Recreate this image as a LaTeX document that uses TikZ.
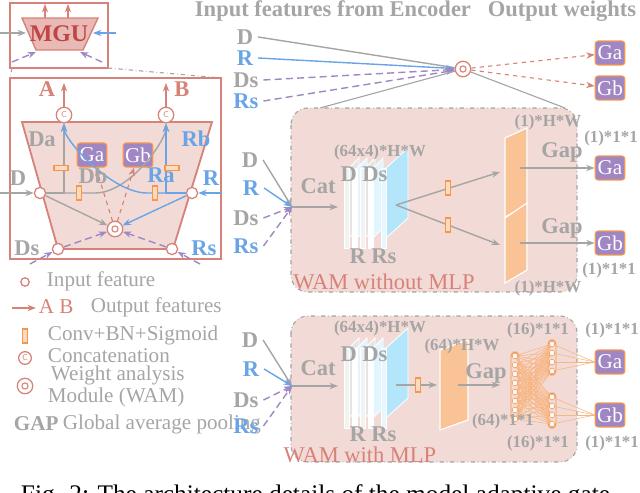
\documentclass[tikz,border=0pt]{standalone}
\usepackage{fontspec}
\setmainfont{Liberation Serif}
\usetikzlibrary{arrows.meta,calc}
\definecolor{cgray}{RGB}{165,165,165}
\definecolor{cblue}{RGB}{105,165,230}
\definecolor{cred}{RGB}{215,130,120}
\definecolor{cdred}{RGB}{190,70,70}
\definecolor{cpink}{RGB}{242,218,214}
\definecolor{cpurp}{RGB}{160,135,195}
\definecolor{corg}{RGB}{245,150,75}
\definecolor{corgf}{RGB}{250,195,150}
\tikzset{
  big/.style={font=\fontsize{16}{18}\selectfont\bfseries},
  small/.style={font=\fontsize{12}{14}\selectfont\bfseries,text=cgray},
  leg/.style={font=\fontsize{15}{17}\selectfont,text=cgray,anchor=west},
  inc/.style={circle,draw=cred,fill=white,line width=.9pt,inner sep=0pt,minimum size=8pt},
  cat/.style={circle,draw=cred,fill=white,line width=.9pt,inner sep=0pt,minimum size=11pt,
    font=\fontsize{6}{6}\selectfont\sffamily,text=cred},
  wam/.style={circle,draw=cred,fill=white,line width=.9pt,inner sep=0pt,minimum size=11pt,
    path picture={\draw[cred,line width=.8pt] (path picture bounding box.center) circle (2.2pt);}},
  gbox/.style={draw=corg,fill=cpurp,rounded corners=2pt,text=white,line width=.8pt,
    minimum width=21pt,minimum height=17pt,inner sep=0pt,font=\fontsize{15}{15}\selectfont},
  conv/.style={draw=corg,fill=corgf!60,line width=.8pt,minimum width=3pt,minimum height=10pt,inner sep=0pt},
  garr/.style={draw=cgray,line width=1pt,-{Stealth[length=6pt]}},
  barr/.style={draw=cblue,line width=1pt,-{Stealth[length=6pt]}},
  parr/.style={draw=cpurp,line width=1pt,dashed,dash pattern=on 5pt off 3pt,-{Stealth[length=6pt]}},
  rarr/.style={draw=cred,line width=.8pt,dashed,-{Stealth[length=6pt]}},
  oarr/.style={draw=cred,line width=1pt,-{Stealth[length=6pt]}},
  wambox/.style={draw=cgray,dash dot,fill=cpink,rounded corners=12pt,line width=.8pt},
  title/.style={font=\fontsize{16}{18}\selectfont,text=cred},
}
\newcommand{\fstack}[2]{% feature stack at x,y
  \foreach \k/\c/\d in {0/gray!20/gray!10,1/cyan!12/white,2/gray!20/gray!10,3/cyan!12/white}{
    \filldraw[draw=white,fill=\c,line width=.6pt] ($(#1,#2)+(\k*8,0)$) -- ++(10,-10) -- ++(0,70) -- ++(-10,10) -- cycle;
    \filldraw[draw=white,fill=\d,line width=.6pt] ($(#1,#2)+(\k*8-5,0)$) rectangle ++(5,80);}
  \filldraw[draw=white,fill=cyan!30,line width=.6pt] ($(#1,#2)+(37,0)$) -- ++(22,-20) -- ++(0,70) -- ++(-22,20) -- cycle;
  \filldraw[draw=white,fill=cyan!10,line width=.6pt] ($(#1,#2)+(32,0)$) rectangle ++(5,80);}
\begin{document}
\begin{tikzpicture}[x=0.025cm,y=-0.025cm]
\useasboundingbox (0,0) rectangle (640,493);
\begin{scope}
\clip (0,0) rectangle (640,493);
% ---- small MGU
\draw[cred,line width=1pt] (10,3) rectangle (108,68);
\filldraw[draw=cred,fill=cred!55,line width=1pt] (22,18) -- (98,18) -- (83,50) -- (36,50) -- cycle;
\node[text=cdred,font=\fontsize{17}{17}\selectfont\bfseries] (mgu) at (59,34) {MGU};
\coordinate (m1) at (45,18); \coordinate (m2) at (68,18);
\draw[oarr] (m1) -- ++(0,-14);
\draw[oarr] (m2) -- ++(0,-14);
\draw[garr] (0,33) -- (26,33);
\draw[barr] (116,33) -- (93,33);
\draw[parr] (12,62) -- (36,52);
\draw[parr] (102,62) -- (80,52);
\draw[cgray,dash dot,line width=.8pt] (12,68) -- (10,78);
\draw[cgray,dash dot,line width=.8pt] (108,68) -- (221,78);
% ---- detailed MGU
\draw[cred,line width=1pt] (10,78) rectangle (221,259);
\filldraw[draw=cred,fill=cpink,line width=1.3pt] (22,122) -- (212,122) -- (173,249) -- (58,249) -- cycle;
\node[inc] (lD) at (40,193) {};
\node[inc] (lR) at (192,193) {};
\node[inc] (lDs) at (58,249) {};
\node[inc] (lRs) at (172,249) {};
\node[cat] (cA) at (64,115) {C};
\node[cat] (cB) at (166,115) {C};
\node[wam] (w1) at (115,229) {};
\node[gbox] (ga1) at (92,155) {Ga};
\node[gbox] (gb1) at (138,155) {Gb};
\draw[garr] (lD) -| (cA);
\draw[garr] (lD) -- ++(55,0) .. controls +(35,0) and +(0,25) .. (cB);
\draw[barr] (lR) -| (cB);
\draw[barr] (lR) -- ++(-45,0) .. controls +(-35,0) and +(0,25) .. (cA);
\draw[garr] (lD) -- (w1);
\draw[barr] (lR) -- (w1);
\draw[parr] (lDs) -- (w1);
\draw[parr] (lRs) -- (w1);
\draw[rarr] (w1) -- (ga1);
\draw[rarr] (w1) -- (gb1);
\node[conv,rotate=90] at (61,168) {};
\node[conv] at (79,193) {};
\node[conv] at (155,193) {};
\node[conv,rotate=90] at (172,168) {};
\draw[oarr] (cA) -- ++(0,-32);
\draw[oarr] (cB) -- ++(0,-32);
\draw[garr] (0,193) -- (lD);
\draw[barr] (222,193) -- (lR);
\draw[parr] (30,264) -- (lDs);
\draw[parr] (200,264) -- (lRs);
\node[big,text=cred] at (47,89) {A};
\node[big,text=cred] at (182,89) {B};
\node[big,text=cgray] at (42,139) {Da};
\node[big,text=cgray] at (93,176) {Db};
\node[big,text=cblue] at (161,175) {Ra};
\node[big,text=cblue] at (196,139) {Rb};
\node[big,text=cgray] at (18,178) {D};
\node[big,text=cblue] at (211,178) {R};
\node[big,text=cgray] at (27,248) {Ds};
\node[big,text=cblue] at (204,248) {Rs};
% ---- legend
\node[inc,minimum size=6pt] (l1) at (25,282) {};
\node[leg] at (42,281) {Input feature};
\draw[oarr] (12,308) -- (36,308);
\node[leg,text=cred] at (34,307) {A B};
\node[leg] at (86,307) {Output features};
\node[conv] (l3) at (25,336) {};
\node[leg] at (43,335) {Conv+BN+Sigmoid};
\node[cat,minimum size=9pt] (l4) at (25,358) {C};
\node[leg] at (43,356) {Concatenation};
\node[wam] (l5) at (25,386) {};
\node[leg] at (46,375) {Weight analysis};
\node[leg] at (43,397) {Module (WAM)};
\node[leg,font=\fontsize{15}{17}\selectfont\bfseries] at (9,424) {GAP};
\node[leg] at (58,424) {Global average pooling};
% ---- top: encoder inputs
\node[big,text=cgray] at (333,11) {Input features from Encoder};
\node[big,text=cgray] at (562,11) {Output weights};
\node[big,text=cgray] (tD) at (245,37) {D};
\node[big,text=cblue] (tR) at (245,58) {R};
\node[big,text=cgray] (tDs) at (246,80) {Ds};
\node[big,text=cblue] (tRs) at (246,101) {Rs};
\node[wam] (w0) at (463,69) {};
\node[gbox] (ga0) at (610,53) {Ga};
\node[gbox] (gb0) at (610,88) {Gb};
\draw[garr,-] (tD.east) -- (w0);
\draw[barr] (tR.east) -- (w0);
\draw[parr] (tDs.east) -- (w0);
\draw[parr] (tRs.east) -- (w0);
\draw[rarr] (w0) -- (ga0);
\draw[rarr] (w0) -- (gb0);
\draw[cgray,line width=.8pt] (w0) -- (320,108);
\draw[cgray,line width=.8pt] (w0) -- (565,108);
% ---- WAM without MLP
\draw[wambox] (291,108) rectangle (577,292);
\node[title] at (384,282) {WAM without MLP};
\coordinate (j1) at (292,207);
\node[big,text=cgray] (aD) at (250,160) {D};
\node[big,text=cblue] (aR) at (251,188) {R};
\node[big,text=cgray] (aDs) at (246,218) {Ds};
\node[big,text=cblue] (aRs) at (246,246) {Rs};
\draw[garr] (aD.east) -- (j1);
\draw[barr] (aR.east) -- (j1);
\draw[parr] (aDs.east) -- (j1);
\draw[parr] (aRs.east) -- (j1);
\node[big,text=cgray] at (318,186) {Cat};
\coordinate (s1) at (338,207);
\draw[garr] (j1) -- (s1);
\fstack{349}{168}
\node[small] at (380,152) {(64x4)*H*W};
\node[big,text=cgray] at (364,174) {D Ds};
\node[big,text=cgray] at (373,256) {R Rs};
\coordinate (b1) at (396,205);
\filldraw[draw=white,fill=corgf,line width=.8pt] (505,138) -- (527,128) -- (527,205) -- (505,217) -- cycle;
\filldraw[draw=white,fill=corgf,line width=.8pt] (505,218) -- (527,203) -- (527,270) -- (505,283) -- cycle;
\coordinate (p1) at (500,172); \coordinate (p2) at (500,245);
\draw[garr] (b1) -- (p1);
\draw[garr] (b1) -- (p2);
\node[conv] at (448,188) {};
\node[conv] at (448,225) {};
\node[small] at (548,122) {(1)*H*W};
\node[small] at (548,288) {(1)*H*W};
\node[gbox] (ga2) at (610,168) {Ga};
\node[gbox] (gb2) at (610,243) {Gb};
\draw[garr] (520,168) -- (ga2);
\draw[garr] (520,243) -- (gb2);
\node[big,text=cgray] at (562,152) {Gap};
\node[big,text=cgray] at (562,228) {Gap};
\node[small] at (611,138) {(1)*1*1};
\node[small] at (609,270) {(1)*1*1};
% ---- WAM with MLP
\draw[wambox] (291,316) rectangle (577,462);
\node[title] at (360,455) {WAM with MLP};
\coordinate (j2) at (292,386);
\node[big,text=cgray] (bD) at (250,340) {D};
\node[big,text=cblue] (bR) at (251,369) {R};
\node[big,text=cgray] (bDs) at (246,400) {Ds};
\node[big,text=cblue] (bRs) at (246,426) {Rs};
\draw[garr] (bD.east) -- (j2);
\draw[barr] (bR.east) -- (j2);
\draw[parr] (bDs.east) -- (j2);
\draw[parr] (bRs.east) -- (j2);
\node[big,text=cgray] at (318,368) {Cat};
\coordinate (s2) at (338,386);
\draw[garr] (j2) -- (s2);
\fstack{349}{348}
\node[small] at (380,328) {(64x4)*H*W};
\node[big,text=cgray] at (364,354) {D Ds};
\node[big,text=cgray] at (373,434) {R Rs};
\node[conv] (c3) at (418,385) {};
\draw[draw=cgray,line width=1pt] (396,385) -- (c3);
\draw[garr] (c3) -- (437,385);
\filldraw[draw=white,fill=corgf,line width=.8pt] (440,350) -- (468,340) -- (468,420) -- (440,430) -- cycle;
\node[small] at (462,346) {(64)*H*W};
\draw[garr] (458,385) -- (500,385);
\node[big,text=cgray] at (486,373) {Gap};
% MLP
\draw[corg,rounded corners=3pt,line width=.7pt] (511,352) rectangle (519,420);
\draw[corg,rounded corners=3pt,line width=.7pt] (548,340) rectangle (556,375);
\draw[corg,rounded corners=3pt,line width=.7pt] (548,393) rectangle (556,428);
\foreach \i in {0,...,7}{
  \foreach \j in {0,...,3}{
    \draw[corg!70,line width=.4pt] (515,356+\i*9) -- (552,344+\j*9);
    \draw[corg!70,line width=.4pt] (515,356+\i*9) -- (552,397+\j*9);}}
\node[gbox] (ga3) at (610,362) {Ga};
\node[gbox] (gb3) at (610,415) {Gb};
\foreach \j in {0,...,3}{
  \draw[corg!70,line width=.4pt] (552,344+\j*9) -- (ga3.west);
  \draw[corg!70,line width=.4pt] (552,397+\j*9) -- (gb3.west);}
\foreach \i in {0,...,7}{\filldraw[draw=corg,fill=white,line width=.4pt] (515,356+\i*9) circle (2pt);}
\foreach \j in {0,...,3}{
  \filldraw[draw=corg,fill=white,line width=.4pt] (552,344+\j*9) circle (2pt);
  \filldraw[draw=corg,fill=white,line width=.4pt] (552,397+\j*9) circle (2pt);}
\node[small] at (538,330) {(16)*1*1};
\node[small] at (612,330) {(1)*1*1};
\node[small] at (503,421) {(64)*1*1};
\node[small] at (538,443) {(16)*1*1};
\node[small] at (612,443) {(1)*1*1};
% caption (cut off)
\node[anchor=west,font=\fontsize{18}{20}\selectfont] at (16,496) {Fig. 2: The architecture details of the model adaptive gate-};
\end{scope}
\end{tikzpicture}
\end{document}
